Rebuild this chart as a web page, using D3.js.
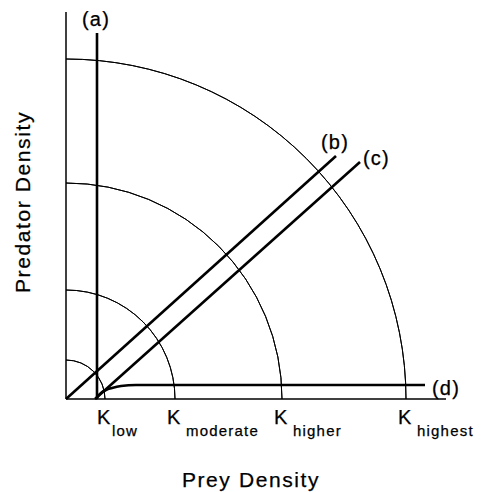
<!DOCTYPE html>
<html>
<head>
<meta charset="utf-8">
<script src="https://cdn.jsdelivr.net/npm/d3@7"></script>
<style>
  html, body { margin: 0; padding: 0; background: #fff; }
  svg { display: block; }
  text { font-family: "Liberation Sans", Arial, Helvetica, sans-serif; fill: #000; stroke: #000; stroke-width: 0.25; }
</style>
</head>
<body>
<svg id="chart" width="481" height="492"></svg>
<script>
// ---- data (units: arbitrary density units) ----
const kNames = ["low", "moderate", "higher", "highest"];
const kValues = [39, 109, 216, 340];          // carrying capacities (arc radii)
const lineA = [[31, 0], [31, 366]];           // (a) vertical isocline
const lineB = [[0, 0], [270, 243]];           // (b) ratio-dependent through origin
const lineC = [[29, 0], [294, 237]];          // (c) offset ratio line
const lineD = [[30, 0], [32, 3], [35, 6], [40, 9], [46, 11], [55, 13], [70, 14], [359, 14]]; // (d)
const lineLabels = ["(a)", "(b)", "(c)", "(d)"];
const xMax = 380, yMax = 387;
const xTitle = "Prey Density", yTitle = "Predator Density";

// ---- layout ----
const svg = d3.select("#chart");
const x = d3.scaleLinear().domain([0, 380]).range([66, 446]);
const y = d3.scaleLinear().domain([0, 380]).range([399, 19]);

// axes
svg.append("line").attr("x1", x(0)).attr("y1", y(0)).attr("x2", x(0)).attr("y2", y(yMax))
  .attr("stroke", "#000").attr("stroke-width", 1.5);
svg.append("line").attr("x1", x(0)).attr("y1", y(0)).attr("x2", x(xMax)).attr("y2", y(0))
  .attr("stroke", "#000").attr("stroke-width", 1.5);

// quarter circle arcs
const arc = d3.arc();
svg.append("g").attr("transform", `translate(${x(0)},${y(0)})`)
  .selectAll("path").data(kValues).join("path")
  .attr("d", k => arc({innerRadius: x(k) - x(0), outerRadius: x(k) - x(0), startAngle: 0, endAngle: Math.PI / 2}))
  .attr("fill", "none").attr("stroke", "#000").attr("stroke-width", 1);

// isocline lines
const lineGen = d3.line().x(d => x(d[0])).y(d => y(d[1]));
const lineGenCurve = d3.line().x(d => x(d[0])).y(d => y(d[1])).curve(d3.curveMonotoneX);
[lineA, lineB, lineC].forEach(l => {
  svg.append("path").attr("d", lineGen(l)).attr("fill", "none")
    .attr("stroke", "#000").attr("stroke-width", 2.6);
});
svg.append("path").attr("d", lineGenCurve(lineD)).attr("fill", "none")
  .attr("stroke", "#000").attr("stroke-width", 2.6);

// line labels
const labelPos = [
  {x: x(lineA[1][0]) - 15, y: 26},
  {x: x(lineB[1][0]) - 15, y: 149},
  {x: x(lineC[1][0]) + 3, y: 165},
  {x: x(lineD[lineD.length - 1][0]) + 7, y: 395}
];
svg.append("g").selectAll("text").data(lineLabels).join("text")
  .attr("x", (d, i) => labelPos[i].x).attr("y", (d, i) => labelPos[i].y)
  .attr("font-size", 20).attr("letter-spacing", 1.2)
  .text(d => d);

// K labels
const kg = svg.append("g").selectAll("g").data(kValues).join("g");
kg.append("text").attr("x", k => x(k) - 8).attr("y", 424)
  .attr("font-size", 20).text("K");
kg.append("text").attr("x", (k, i) => x(k) - 8 + (i === 0 ? 15 : 19)).attr("y", 436)
  .attr("font-size", 15).attr("letter-spacing", 1.2)
  .text((k, i) => kNames[i]);

// axis titles
svg.append("text").attr("x", 251).attr("y", 487).attr("text-anchor", "middle")
  .attr("font-size", 21).attr("letter-spacing", 1.6).text(xTitle);
svg.append("text").attr("transform", "translate(30,202) rotate(-90)").attr("text-anchor", "middle")
  .attr("font-size", 21).attr("letter-spacing", 1.6).text(yTitle);
</script>
</body>
</html>
